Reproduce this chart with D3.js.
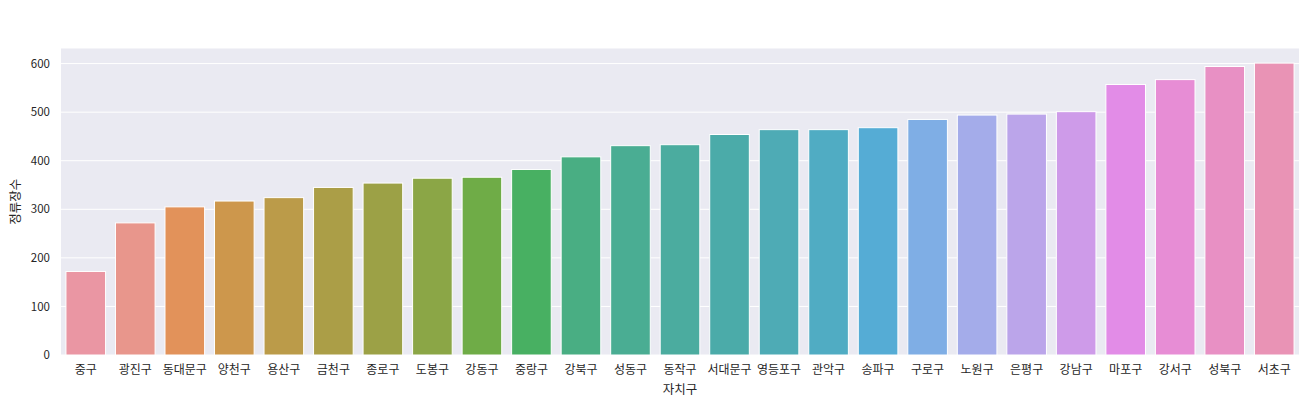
<!DOCTYPE html>
<html>
<head>
<meta charset="utf-8">
<script src="https://cdn.jsdelivr.net/npm/d3@7"></script>
<style>
  html, body { margin: 0; padding: 0; background: #ffffff; }
  svg { display: block; }
  text { font-family: "Noto Sans CJK KR", "Noto Sans", sans-serif; fill: #262626; }
</style>
</head>
<body>
<svg id="chart" width="1315" height="400"></svg>
<script>
// ---- data ----
const districts = ["중구","광진구","동대문구","양천구","용산구","금천구","종로구","도봉구","강동구","중랑구",
  "강북구","성동구","동작구","서대문구","영등포구","관악구","송파구","구로구","노원구","은평구",
  "강남구","마포구","강서구","성북구","서초구"];
const stopCounts = [172, 272, 305, 317, 324, 345, 354, 364, 366, 382,
  408, 431, 433, 454, 464, 464, 468, 485, 494, 496,
  501, 557, 567, 594, 601];
const yTicks = [0, 100, 200, 300, 400, 500, 600];
const xLabel = "자치구";
const yLabel = "정류장수";

// ---- seaborn husl palette (HUSL -> RGB, then desaturate 0.75) ----
const M = [[3.2406, -1.5372, -0.4986], [-0.9689, 1.8758, 0.0415], [0.0557, -0.2040, 1.0570]];
const refU = 0.19784, refV = 0.46834, refY = 1.0, labE = 0.008856, labK = 903.3;
function maxChroma(L, H) {
  const hrad = H / 360 * Math.PI * 2, sinH = Math.sin(hrad), cosH = Math.cos(hrad);
  const sub1 = Math.pow(L + 16, 3) / 1560896;
  const sub2 = sub1 > labE ? sub1 : L / labK;
  let result = Infinity;
  for (const [m1, m2, m3] of M) {
    const top = (0.99915 * m1 + 1.05122 * m2 + 1.14460 * m3) * sub2;
    const rb = 0.86330 * m3 - 0.17266 * m2;
    const lb = 0.12949 * m3 - 0.38848 * m1;
    const bottom = (rb * sinH + lb * cosH) * sub2;
    for (const t of [0, 1]) {
      const C = L * (top - 1.05122 * t) / (bottom + 0.17266 * sinH * t);
      if (C > 0 && C < result) result = C;
    }
  }
  return result;
}
function fInv(t) { return Math.pow(t, 3) > labE ? Math.pow(t, 3) : (116 * t - 16) / labK; }
function fromLinear(c) { return c <= 0.0031308 ? 12.92 * c : 1.055 * Math.pow(c, 1 / 2.4) - 0.055; }
function huslToRgb(H, S, L) {
  const C = maxChroma(L, H) / 100 * S;
  const hrad = H / 360 * Math.PI * 2;
  const U = Math.cos(hrad) * C, V = Math.sin(hrad) * C;
  const varY = fInv((L + 16) / 116);
  const varU = U / (13 * L) + refU, varV = V / (13 * L) + refV;
  const Y = varY * refY;
  const X = -(9 * Y * varU) / ((varU - 4) * varV - varU * varV);
  const Z = (9 * Y - 15 * varV * Y - varV * X) / (3 * varV);
  return M.map(r => Math.min(1, Math.max(0, fromLinear(r[0] * X + r[1] * Y + r[2] * Z))));
}
function rgbToHls(r, g, b) {
  const maxc = Math.max(r, g, b), minc = Math.min(r, g, b);
  const l = (minc + maxc) / 2;
  if (minc === maxc) return [0, l, 0];
  const s = l <= 0.5 ? (maxc - minc) / (maxc + minc) : (maxc - minc) / (2 - maxc - minc);
  const rc = (maxc - r) / (maxc - minc), gc = (maxc - g) / (maxc - minc), bc = (maxc - b) / (maxc - minc);
  let h;
  if (r === maxc) h = bc - gc; else if (g === maxc) h = 2 + rc - bc; else h = 4 + gc - rc;
  h = ((h / 6) % 1 + 1) % 1;
  return [h, l, s];
}
function v(m1, m2, hue) {
  hue = ((hue % 1) + 1) % 1;
  if (hue < 1 / 6) return m1 + (m2 - m1) * hue * 6;
  if (hue < 0.5) return m2;
  if (hue < 2 / 3) return m1 + (m2 - m1) * (2 / 3 - hue) * 6;
  return m1;
}
function hlsToRgb(h, l, s) {
  if (s === 0) return [l, l, l];
  const m2 = l <= 0.5 ? l * (1 + s) : l + s - l * s;
  const m1 = 2 * l - m2;
  return [v(m1, m2, h + 1 / 3), v(m1, m2, h), v(m1, m2, h - 1 / 3)];
}
function huslPalette(n) {
  const out = [];
  for (let i = 0; i < n; i++) {
    let h = (i / n + 0.01) % 1;
    const rgb = huslToRgb(h * 359, 0.9 * 99, 0.7 * 99);
    const [hh, ll, ss] = rgbToHls(...rgb);
    const d = hlsToRgb(hh, ll, ss * 0.75);
    out.push(d3.rgb(d[0] * 255, d[1] * 255, d[2] * 255).formatHex());
  }
  return out;
}
const colors = huslPalette(districts.length);

// ---- layout ----
const svg = d3.select("#chart");
const margin = { left: 61, right: 16, top: 48.5, bottom: 45 };
const W = 1315, H = 400;
const x = d3.scaleBand().domain(districts).range([margin.left, W - margin.right])
  .paddingInner(0.2).paddingOuter(0.1);
const yMax = d3.max(stopCounts) * 1.05;
const y = d3.scaleLinear().domain([0, yMax]).range([H - margin.bottom, margin.top]);

svg.append("rect")
  .attr("x", margin.left).attr("y", margin.top)
  .attr("width", W - margin.left - margin.right)
  .attr("height", H - margin.bottom - margin.top)
  .attr("fill", "#EAEAF2");

// grid
svg.append("g").selectAll("line").data(yTicks).join("line")
  .attr("x1", margin.left).attr("x2", W - margin.right)
  .attr("y1", d => y(d)).attr("y2", d => y(d))
  .attr("stroke", "#ffffff").attr("stroke-width", 1);

// bars
svg.append("g").selectAll("rect").data(districts).join("rect")
  .attr("x", d => x(d))
  .attr("y", (d, i) => y(stopCounts[i]))
  .attr("width", x.bandwidth())
  .attr("height", (d, i) => y(0) - y(stopCounts[i]))
  .attr("fill", (d, i) => colors[i])
  .attr("stroke", "#ffffff").attr("stroke-width", 1);

// y axis
const yAxis = d3.axisLeft(y).tickValues(yTicks).tickSize(0).tickPadding(11);
const gy = svg.append("g").attr("transform", `translate(${margin.left},0)`).call(yAxis);
gy.select(".domain").remove();
gy.selectAll("text").style("font-size", "11.5px").attr("fill", "#262626");

// x axis
const xAxis = d3.axisBottom(x).tickSize(0).tickPadding(10);
const gx = svg.append("g").attr("transform", `translate(0,${H - margin.bottom})`).call(xAxis);
gx.select(".domain").remove();
gx.selectAll("text").style("font-size", "12px").attr("fill", "#262626");

// labels
svg.append("text")
  .attr("x", (margin.left + W - margin.right) / 2).attr("y", 394)
  .attr("text-anchor", "middle").style("font-size", "12.5px")
  .text(xLabel);
svg.append("text")
  .attr("transform", `translate(16,${(margin.top + H - margin.bottom) / 2}) rotate(-90)`)
  .attr("text-anchor", "middle").attr("dy", "0.35em").style("font-size", "12.5px")
  .text(yLabel);
</script>
</body>
</html>
